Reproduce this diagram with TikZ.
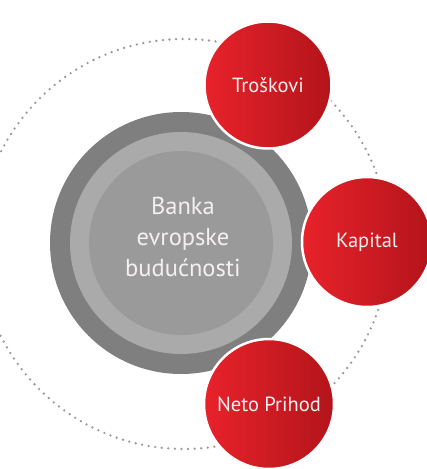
\documentclass[tikz,border=0pt]{standalone}
\usepackage{fontspec}
\setmainfont{PT Sans}
\definecolor{ringdark}{HTML}{7F7F7F}
\definecolor{ringlight}{HTML}{AAAAAA}
\definecolor{coregray}{HTML}{9A9A9A}
\definecolor{redL}{HTML}{E8222B}
\definecolor{redR}{HTML}{B3141A}
\definecolor{dotgray}{HTML}{9A9A9A}
\definecolor{txtlight}{HTML}{F4F0F0}
\tikzset{
  dotring/.style={draw=dotgray, line width=2.6pt, line cap=round, dash pattern=on 0pt off 6.6pt},
  grayring/.style={circle, inner sep=0pt, fill=#1},
  redball/.style={circle, inner sep=0pt, minimum size=#1, left color=redL, right color=redR,
    draw=white, line width=2.5pt, text=txtlight, font=\fontsize{20.5}{24}\selectfont},
  centertext/.style={text=txtlight, align=center, font=\fontsize{24.5}{31}\selectfont}
}
\begin{document}
\begin{tikzpicture}[x=1pt,y=-1pt]
\useasboundingbox (0,0) rectangle (427,469);
% dotted orbit
\coordinate (orbc) at (184,244);
\draw[dotring] (orbc) circle[radius=205pt];
% central gray circles
\node[grayring=ringdark, minimum size=262pt] (outer) at (181,243) {};
\node[grayring=ringlight, minimum size=222pt] (mid) at (181,243) {};
\node[grayring=coregray, minimum size=184pt] (core) at (181,243) {};
\node[centertext] (bank) at (183,237) {Banka\\evropske\\budućnosti};
% red circles
\node[redball=127pt] (tros) at (268,85) {Troškovi};
\node[redball=130pt] (kap) at (367,242) {Kapital};
\node[redball=130pt] (neto) at (269,404) {Neto Prihod};
\end{tikzpicture}
\end{document}
